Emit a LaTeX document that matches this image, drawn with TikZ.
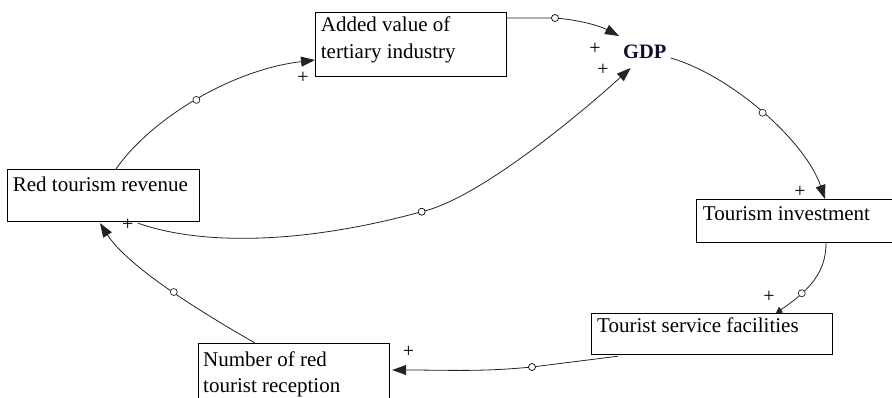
\documentclass[tikz,border=0pt]{standalone}
\usepackage{fontspec}
\setmainfont{Liberation Serif}
\usetikzlibrary{arrows.meta,calc}
\definecolor{gdpblue}{RGB}{15,15,50}
\definecolor{linkgray}{RGB}{35,35,35}
\begin{document}
\begin{tikzpicture}[x=1pt,y=-1pt,
  box/.style={draw, line width=1.2pt, anchor=north west, inner sep=0pt},
  lbl/.style={anchor=base west, inner sep=0pt, font=\fontsize{21}{26}\selectfont},
  gdpst/.style={anchor=base west, inner sep=0pt, font=\fontsize{20.5}{26}\selectfont\bfseries, text=gdpblue},
  plus/.style={inner sep=0pt, font=\fontsize{20}{20}\selectfont},
  circ/.style={circle, draw, fill=white, inner sep=0pt, minimum size=7pt, line width=0.7pt},
  link/.style={draw=linkgray, line width=0.8pt, -{Triangle[length=14pt,width=10pt]}},
]
\useasboundingbox (0,0) rectangle (892,397);
\clip (0,0) rectangle (892,397);

% boxes
\node[box, minimum width=191pt, minimum height=64pt] (av) at (315,12) {};
\node[box, minimum width=192pt, minimum height=52pt] (rtr) at (7,169) {};
\node[box, minimum width=210pt, minimum height=43pt] (ti) at (696,199) {};
\node[box, minimum width=241pt, minimum height=41pt] (tsf) at (591,313) {};
\node[box, minimum width=191pt, minimum height=70pt] (num) at (198,343) {};

% texts
\node[lbl] (avt1) at ($(av.north west)+(5.7,19.7)$) {Added value of};
\node[lbl] (avt2) at ($(av.north west)+(5.7,46.7)$) {tertiary industry};
\node[lbl] (rtrt) at ($(rtr.north west)+(5.7,22.7)$) {Red tourism revenue};
\node[lbl] (tit) at ($(ti.north west)+(6.7,21)$) {Tourism investment};
\node[lbl] (tsft) at ($(tsf.north west)+(6,19.7)$) {Tourist service facilities};
\node[lbl] (numt1) at ($(num.north west)+(5,23)$) {Number of red};
\node[lbl] (numt2) at ($(num.north west)+(5,49)$) {tourist reception};
\node[gdpst] (gdp) at (623,58) {GDP};

% connectors
\draw[link] ($(rtr.north west)+(109,0)$) .. controls (150,120) and (230,70) .. ($(av.north west)+(0,48)$)
  node[circ, pos=0.5] (c1) {};
\draw[link] ($(av.north east)+(0,6)$) -- (555,18) .. controls (580,20) and (600,26) .. ($(gdp.base west)+(-4,-22)$);
\node[circ] (c2) at (555,18) {};
\draw[link] ($(rtr.south west)+(131,1)$) .. controls (200,245) and (300,245) .. (421.7,211.7)
  .. controls (482,198) and (590,105) .. ($(gdp.base west)+(7.7,10)$);
\node[circ] (c3) at (421.7,211.7) {};
\draw[link] ($(gdp.base east)+(4,0)$) .. controls (730,75) and (805,140) .. ($(ti.north west)+(129,0)$)
  node[circ, pos=0.5] (c4) {};
\draw[draw=linkgray, line width=0.8pt, -{Triangle[length=6pt,width=7pt]}] ($(ti.south west)+(130,0)$) .. controls (826,272) and (810,290) .. ($(tsf.north west)+(185,0)$)
  node[circ, pos=0.7] (c5) {};
\draw[link] ($(tsf.south west)+(27,1)$) .. controls (575,361) .. (532,367)
  .. controls (480,372) and (450,370) .. ($(num.north east)+(2,27)$);
\node[circ] (c6) at (532,367) {};
\draw[link] ($(num.north west)+(57,0)$) .. controls (215,320) and (130,270) .. ($(rtr.south west)+(93,1)$)
  node[circ, pos=0.5] (c7) {};

% polarity signs
\node[plus] (p1) at (303,78) {+};
\node[plus] (p2) at (595,49) {+};
\node[plus] (p3) at (603,70) {+};
\node[plus] (p4) at (800,192) {+};
\node[plus] (p5) at (769,297) {+};
\node[plus] (p6) at (408.5,352) {+};
\node[plus] (p7) at (127.7,225) {+};
\end{tikzpicture}
\end{document}
